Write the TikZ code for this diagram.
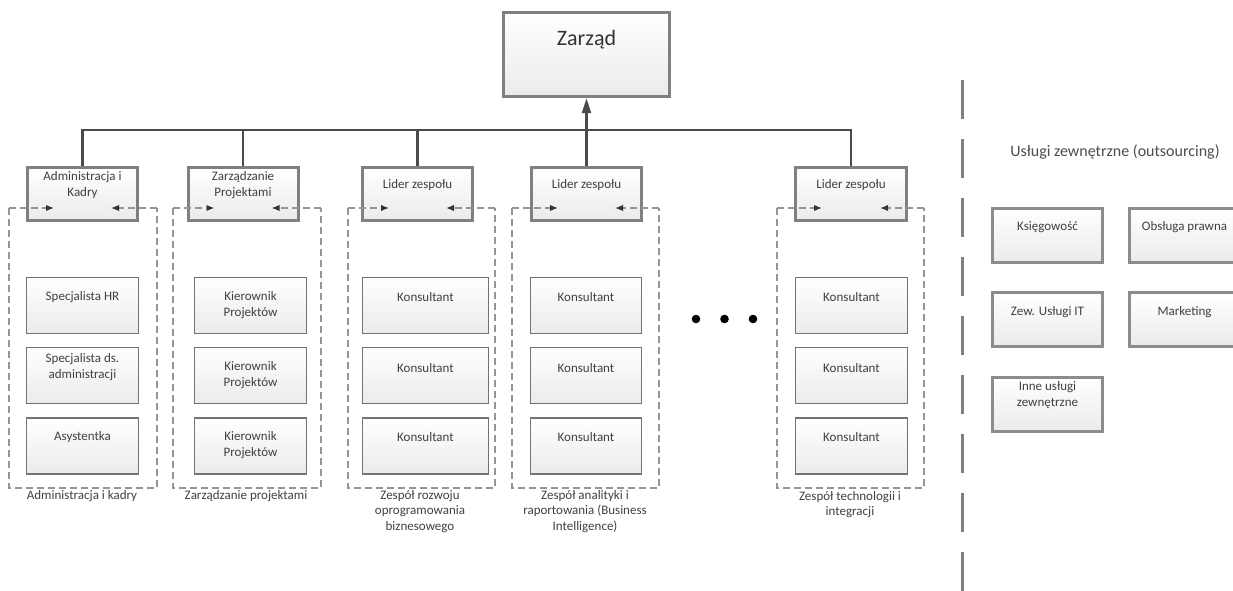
\documentclass[tikz,border=0pt]{standalone}
\usepackage{fontspec}
\setmainfont{Carlito}
\usetikzlibrary{arrows.meta,calc}
\definecolor{connc}{HTML}{4A4A4A}
\definecolor{bord}{HTML}{808080}
\definecolor{txt}{HTML}{404040}
\definecolor{frm}{HTML}{959595}
\begin{document}
\begin{tikzpicture}[x=1pt,y=-1pt,
  every node/.style={font=\fontsize{13}{16}\selectfont, text=txt, align=center, inner sep=0pt},
  zbox/.style={draw=bord, line width=3.5pt, top color=white, bottom color=black!8, minimum width=166pt, minimum height=84pt},
  topbox/.style={draw=bord, line width=3pt, top color=white, bottom color=black!8, minimum height=53pt, minimum width=110pt},
  ibox/.style={draw=black!55, line width=1.4pt, top color=white, bottom color=black!8, minimum height=56pt, minimum width=112pt},
  obox/.style={draw=black!45, line width=3pt, top color=white, bottom color=black!8, minimum height=54pt, minimum width=110pt},
  lbl/.style={font=\fontsize{13}{15.5}\selectfont},
  conn/.style={draw=connc, line width=2.5pt},
  frame/.style={draw=frm, line width=1.5pt, dash pattern=on 7pt off 4pt},
  ftip/.style={-{Latex[length=8pt,width=6.5pt,fill=black!80,color=black!80]}},
  sep/.style={draw=black!50, line width=3pt, dash pattern=on 39pt off 20pt}
]
\useasboundingbox (0,0) rectangle (1233,591);
\clip (0,0) rectangle (1233,591);

% Zarzad
\node[zbox] (zar) at (586.5,54.5) {};
\node[font=\fontsize{22}{26}\selectfont, text=black!80] (zart) at (586.5,40) {Zarząd};

% top boxes
\node[topbox] (adm) at (82.5,194) {};
\node (admt) at (82.5,185) {Administracja i\\Kadry};
\node[topbox] (zp) at (243,194) {};
\node (zpt) at (243,185) {Zarządzanie\\Projektami};
\node[topbox] (l1) at (417.5,194) {};
\node (l1t) at (417.5,185) {Lider zespołu};
\node[topbox] (l2) at (586.5,194) {};
\node (l2t) at (586.5,185) {Lider zespołu};
\node[topbox, minimum width=111pt] (l3) at (851,194) {};
\node (l3t) at (851,185) {Lider zespołu};

% connectors
\coordinate (bus) at (586.5,130);
\draw[conn] (adm.north) |- (bus);
\draw[conn] (zp.north) -- (zp.north |- bus);
\draw[conn] (l1.north) -- (l1.north |- bus);
\draw[conn] (l3.north) |- (bus);
\draw[conn, -{Triangle[length=15pt,width=9pt]}] (l2.north) -- (zar.south);

% frames
\coordinate (f1a) at (9,208);   \coordinate (f1b) at (157,488);
\coordinate (f2a) at (173,208); \coordinate (f2b) at (321,488);
\coordinate (f3a) at (348,208); \coordinate (f3b) at (495,488);
\coordinate (f4a) at (512,208); \coordinate (f4b) at (659,488);
\coordinate (f5a) at (777,208); \coordinate (f5b) at (924,488);
\foreach \f/\b in {f1/adm,f2/zp,f3/l1,f4/l2,f5/l3}{
  \draw[frame] (\f a) -- (\f a |- \f b) -- (\f b) -- (\f b |- \f a);
  \draw[frame, ftip] (\f a) -- ($(\b.west |- \f a)+(28,0)$);
  \draw[frame, ftip] (\f b |- \f a) -- ($(\b.east |- \f a)+(-28,0)$);
}

% column 1
\node[ibox] (a1) at (82.5,305.5) {};
\node (a1t) at (82.5,297) {Specjalista HR};
\node[ibox] (a2) at (82.5,375.5) {};
\node (a2t) at (82.5,367.5) {Specjalista ds.\\administracji};
\node[ibox] (a3) at (82.5,446) {};
\node (a3t) at (82.5,437) {Asystentka};

% column 2
\node[ibox] (b1) at (250.5,305.5) {};
\node (b1t) at (250.5,305) {Kierownik\\Projektów};
\node[ibox] (b2) at (250.5,375.5) {};
\node (b2t) at (250.5,375) {Kierownik\\Projektów};
\node[ibox] (b3) at (250.5,446) {};
\node (b3t) at (250.5,445) {Kierownik\\Projektów};

% column 3
\node[ibox, minimum width=126pt] (c1) at (425.5,305.5) {};
\node (c1t) at (425.5,297) {Konsultant};
\node[ibox, minimum width=126pt] (c2) at (425.5,375.5) {};
\node (c2t) at (425.5,368) {Konsultant};
\node[ibox, minimum width=126pt] (c3) at (425.5,446) {};
\node (c3t) at (425.5,437) {Konsultant};

% column 4
\node[ibox, minimum width=111pt] (d1) at (586,305.5) {};
\node (d1t) at (586,297) {Konsultant};
\node[ibox, minimum width=111pt] (d2) at (586,375.5) {};
\node (d2t) at (586,368) {Konsultant};
\node[ibox, minimum width=111pt] (d3) at (586,446) {};
\node (d3t) at (586,437) {Konsultant};

% column 5
\node[ibox] (e1) at (851.5,305.5) {};
\node (e1t) at (851.5,297) {Konsultant};
\node[ibox] (e2) at (851.5,375.5) {};
\node (e2t) at (851.5,368) {Konsultant};
\node[ibox] (e3) at (851.5,446) {};
\node (e3t) at (851.5,437) {Konsultant};

% frame labels
\node[lbl] (g1) at (82,496) {Administracja i kadry};
\node[lbl] (g2) at (246,496) {Zarządzanie projektami};
\node[lbl] (g3) at (420,511.5) {Zespół rozwoju\\oprogramowania\\biznesowego};
\node[lbl] (g4) at (585,511.5) {Zespół analityki i\\raportowania (Business\\Intelligence)};
\node[lbl] (g5) at (850,504.5) {Zespół technologii i\\integracji};

% dots
\fill[black] (696,319) circle (4.3pt);
\fill[black] (724.5,319) circle (4.3pt);
\fill[black] (753,319) circle (4.3pt);

% separator
\coordinate (sa) at (962,80);
\coordinate (sb) at (962,600);
\draw[sep] (sa) -- (sb);

% outsourcing
\node[font=\fontsize{16}{19}\selectfont, text=black!70] (ot) at (1115,152) {Usługi zewnętrzne (outsourcing)};
\node[obox] (o1) at (1047.5,235.5) {};
\node (o1t) at (1047.5,227) {Księgowość};
\node[obox] (o2) at (1184.5,235.5) {};
\node (o2t) at (1184.5,227) {Obsługa prawna};
\node[obox] (o3) at (1047.5,319.5) {};
\node (o3t) at (1047.5,312) {Zew. Usługi IT};
\node[obox] (o4) at (1184.5,319.5) {};
\node (o4t) at (1184.5,312) {Marketing};
\node[obox] (o5) at (1047.5,404) {};
\node (o5t) at (1047.5,395) {Inne usługi\\zewnętrzne};
\end{tikzpicture}
\end{document}
